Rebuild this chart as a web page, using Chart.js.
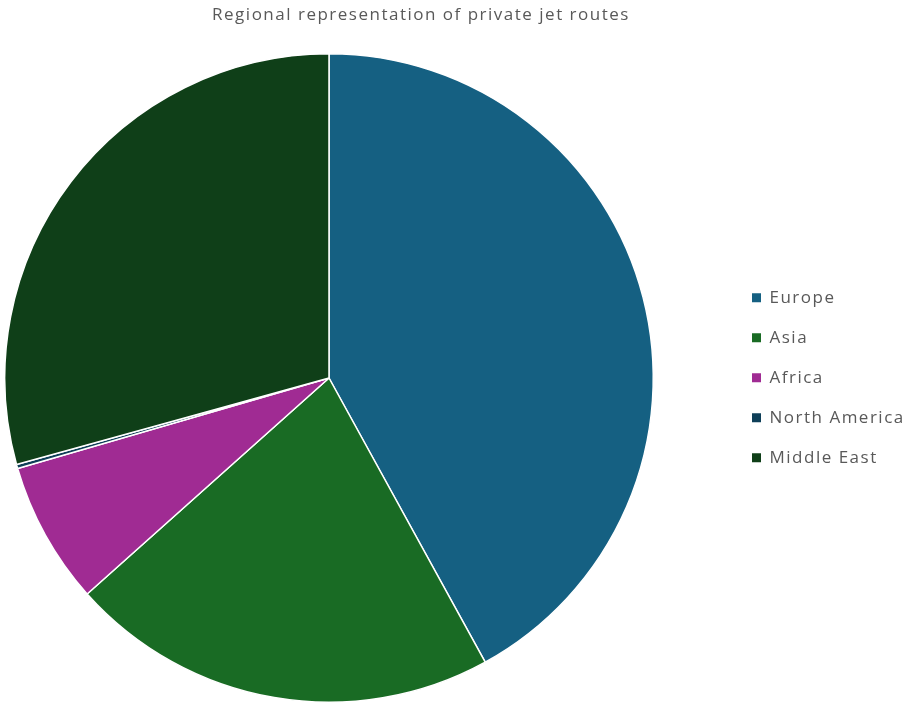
<!DOCTYPE html>
<html><head><meta charset="utf-8">
<script src="https://cdn.jsdelivr.net/npm/chart.js@4.4.1/dist/chart.umd.min.js"></script>
<style>html,body{margin:0;padding:0;background:#fff;}</style>
</head><body>
<canvas id="c" width="911" height="704" style="display:block;width:911px;height:704px"></canvas>
<script>
// ---- data ----
const categories = ['Europe', 'Asia', 'Africa', 'North America', 'Middle East'];
const shares = [42.0, 21.4, 7.1, 0.2, 29.3];
const sliceColors = ['#156082', '#196B24', '#A02B93', '#0E3F58', '#0F3F18'];
const chartTitle = 'Regional representation of private jet routes';

// ---- layout constants ----
const PIE_BOX = { left: 4, top: 53, size: 650 };
const TITLE_CENTER_X = 421;
const LEGEND_BOX_X = 752;
const TEXT_COLOR = '#595959';
const FONT_FAMILY = '"Open Sans", sans-serif';
const LETTER_SPACING = '1.5px';

const manualLayout = {
  id: 'manualLayout',
  beforeUpdate(chart) { chart.ctx.letterSpacing = LETTER_SPACING; },
  beforeLayout(chart) { chart.ctx.letterSpacing = LETTER_SPACING; },
  afterLayout(chart) {
    const ca = chart.chartArea;
    ca.left = PIE_BOX.left; ca.top = PIE_BOX.top;
    ca.right = PIE_BOX.left + PIE_BOX.size; ca.bottom = PIE_BOX.top + PIE_BOX.size;
    ca.width = PIE_BOX.size; ca.height = PIE_BOX.size;
    const t = chart.titleBlock;
    if (t) { const half = 400; t.left = TITLE_CENTER_X - half; t.right = TITLE_CENTER_X + half; t.width = 2 * half; }
    const lg = chart.legend;
    if (lg) {
      const pad = lg.options.labels.padding;
      const w = Math.max(lg.width, 911 - LEGEND_BOX_X + pad);
      lg.left = LEGEND_BOX_X - pad; lg.right = lg.left + w; lg.width = w;
    }
  },
  beforeDraw(chart) { chart.ctx.letterSpacing = LETTER_SPACING; }
};

Chart.defaults.font.family = FONT_FAMILY;
Chart.defaults.color = TEXT_COLOR;

const baseGen = Chart.overrides.doughnut.plugins.legend.labels.generateLabels;

new Chart(document.getElementById('c'), {
  type: 'pie',
  data: {
    labels: categories,
    datasets: [{
      data: shares,
      backgroundColor: sliceColors,
      borderColor: '#ffffff',
      borderWidth: 1.5
    }]
  },
  options: {
    responsive: false,
    devicePixelRatio: 1,
    animation: false,
    layout: { padding: { left: 4, bottom: 1 } },
    plugins: {
      title: {
        display: true,
        text: chartTitle,
        color: TEXT_COLOR,
        font: { size: 17, weight: 'normal', family: FONT_FAMILY },
        padding: { top: 5, bottom: 27 }
      },
      legend: {
        position: 'right',
        fullSize: false,
        labels: {
          color: TEXT_COLOR,
          font: { size: 17, family: FONT_FAMILY },
          boxWidth: 9,
          boxHeight: 9,
          padding: 23,
          generateLabels: (chart) => baseGen(chart).map(l => Object.assign(l, { lineWidth: 0, strokeStyle: 'rgba(0,0,0,0)' }))
        }
      },
      tooltip: { enabled: false }
    }
  },
  plugins: [manualLayout]
});
</script>
</body></html>
